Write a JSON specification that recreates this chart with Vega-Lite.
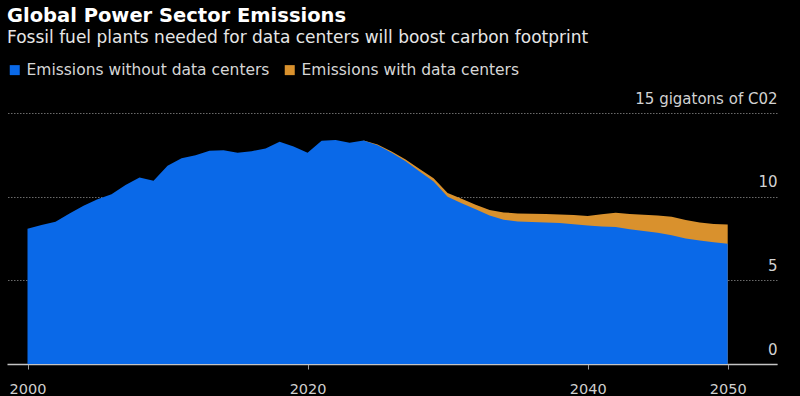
{
  "$schema": "https://vega.github.io/schema/vega-lite/v6.json",
  "width": 770,
  "height": 251,
  "autosize": {"type": "none"},
  "padding": {"left": 7, "top": 113, "right": 23, "bottom": 32},
  "background": "#000000",
  "title": {
    "text": "Global Power Sector Emissions",
    "subtitle": "Fossil fuel plants needed for data centers will boost carbon footprint",
    "anchor": "start",
    "frame": "group",
    "orient": "top",
    "offset": 15,
    "font": "DejaVu Sans",
    "fontSize": 19.5,
    "fontWeight": "bold",
    "color": "#ffffff",
    "subtitleFont": "DejaVu Sans",
    "subtitleFontSize": 17,
    "subtitleColor": "#e6e6e6",
    "subtitlePadding": 4
  },
  "config": {
    "view": {"stroke": null},
    "axis": {"labelFont": "DejaVu Sans", "titleFont": "DejaVu Sans"},
    "legend": {"labelFont": "DejaVu Sans"}
  },
  "data": {
    "values": [
      {"year": 2000, "without": 8.08, "with": null},
      {"year": 2001, "without": 8.3, "with": null},
      {"year": 2002, "without": 8.5, "with": null},
      {"year": 2003, "without": 9.0, "with": null},
      {"year": 2004, "without": 9.45, "with": null},
      {"year": 2005, "without": 9.85, "with": null},
      {"year": 2006, "without": 10.15, "with": null},
      {"year": 2007, "without": 10.7, "with": null},
      {"year": 2008, "without": 11.15, "with": null},
      {"year": 2009, "without": 10.95, "with": null},
      {"year": 2010, "without": 11.85, "with": null},
      {"year": 2011, "without": 12.3, "with": null},
      {"year": 2012, "without": 12.48, "with": null},
      {"year": 2013, "without": 12.74, "with": null},
      {"year": 2014, "without": 12.77, "with": null},
      {"year": 2015, "without": 12.62, "with": null},
      {"year": 2016, "without": 12.72, "with": null},
      {"year": 2017, "without": 12.88, "with": null},
      {"year": 2018, "without": 13.28, "with": null},
      {"year": 2019, "without": 13.0, "with": null},
      {"year": 2020, "without": 12.62, "with": null},
      {"year": 2021, "without": 13.34, "with": null},
      {"year": 2022, "without": 13.38, "with": null},
      {"year": 2023, "without": 13.22, "with": null},
      {"year": 2024, "without": 13.36, "with": 13.36},
      {"year": 2025, "without": 13.08, "with": 13.12},
      {"year": 2026, "without": 12.62, "with": 12.7},
      {"year": 2027, "without": 12.12, "with": 12.22},
      {"year": 2028, "without": 11.5, "with": 11.65},
      {"year": 2029, "without": 10.9, "with": 11.1},
      {"year": 2030, "without": 10.0, "with": 10.22},
      {"year": 2031, "without": 9.6, "with": 9.88},
      {"year": 2032, "without": 9.25, "with": 9.52},
      {"year": 2033, "without": 8.88, "with": 9.2},
      {"year": 2034, "without": 8.62, "with": 9.06},
      {"year": 2035, "without": 8.52, "with": 9.0},
      {"year": 2036, "without": 8.48, "with": 8.98},
      {"year": 2037, "without": 8.45, "with": 8.96},
      {"year": 2038, "without": 8.42, "with": 8.94},
      {"year": 2039, "without": 8.35, "with": 8.9},
      {"year": 2040, "without": 8.28, "with": 8.84},
      {"year": 2041, "without": 8.22, "with": 8.95},
      {"year": 2042, "without": 8.18, "with": 9.04},
      {"year": 2043, "without": 8.05, "with": 8.96},
      {"year": 2044, "without": 7.95, "with": 8.92},
      {"year": 2045, "without": 7.85, "with": 8.88},
      {"year": 2046, "without": 7.7, "with": 8.8},
      {"year": 2047, "without": 7.5, "with": 8.6},
      {"year": 2048, "without": 7.38, "with": 8.46},
      {"year": 2049, "without": 7.28, "with": 8.36},
      {"year": 2050, "without": 7.18, "with": 8.34}
    ]
  },
  "encoding": {
    "x": {
      "field": "year",
      "type": "quantitative",
      "scale": {"domain": [1998.536, 2053.52], "nice": false, "zero": false},
      "axis": {
        "title": null,
        "values": [2000, 2020, 2040, 2050],
        "format": "d",
        "grid": false,
        "domain": true,
        "domainColor": "#c4c4c4",
        "domainWidth": 1.5,
        "ticks": true,
        "tickColor": "#9a9a9a",
        "tickSize": 5,
        "tickWidth": 1,
        "labelPadding": 13,
        "labelFontSize": 14.5,
        "labelColor": "#cfcfcf",
        "labelFlush": false
      }
    }
  },
  "layer": [
    {
      "mark": {"type": "area", "opacity": 1},
      "encoding": {
        "y": {
          "field": "with",
          "type": "quantitative",
          "scale": {"domain": [0, 15], "nice": false},
          "axis": {
            "orient": "right",
            "title": null,
            "values": [0, 5, 10, 15],
            "labelExpr": "datum.value == 15 ? '15 gigatons of C02' : datum.label",
            "domain": false,
            "ticks": false,
            "grid": true,
            "gridColor": "#6a6a6a",
            "gridDash": [1.5, 1.5],
            "gridWidth": 1,
            "labelAlign": "right",
            "labelBaseline": "alphabetic",
            "labelPadding": 0,
            "labelOffset": -10,
            "labelFontSize": 15,
            "labelColor": "#d2d2d2",
            "labelFlush": false
          }
        },
        "color": {
          "datum": "Emissions with data centers",
          "type": "nominal",
          "scale": {
            "domain": ["Emissions without data centers", "Emissions with data centers"],
            "range": ["#0a69e8", "#d9912d"]
          },
          "legend": {
            "title": null,
            "orient": "none",
            "direction": "horizontal",
            "legendX": 0,
            "legendY": -51,
            "padding": 0,
            "symbolType": "square",
            "symbolSize": 100,
            "symbolStrokeWidth": 0,
            "symbolOpacity": 1,
            "labelFontSize": 15.5,
            "labelColor": "#d6d6d6",
            "labelOffset": 4,
            "columnPadding": 12,
            "labelLimit": 400
          }
        }
      }
    },
    {
      "mark": {"type": "area", "opacity": 1},
      "encoding": {
        "y": {"field": "without", "type": "quantitative"},
        "color": {"datum": "Emissions without data centers", "type": "nominal"}
      }
    }
  ]
}
